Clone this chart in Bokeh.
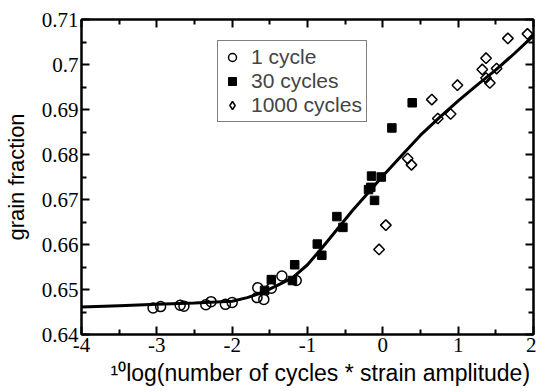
import math
from bokeh.plotting import figure
from bokeh.models import FixedTicker, LinearAxis, Legend, LegendItem, Range1d
from bokeh.embed import file_html
from bokeh.resources import INLINE

# ---- data ----
one_x = [-3.05, -2.95, -2.69, -2.64, -2.35, -2.28, -2.09, -2.00, -1.66, -1.67, -1.58, -1.48, -1.34, -1.15]
one_y = [0.6459, 0.6462, 0.6465, 0.6463, 0.6466, 0.6473, 0.6467, 0.6471, 0.6504, 0.6482, 0.6478, 0.6503, 0.6530, 0.6520]

thirty_x = [-1.57, -1.48, -1.20, -1.17, -0.87, -0.81, -0.61, -0.53, -0.19, -0.16, -0.15, -0.11, -0.02, 0.12, 0.39]
thirty_y = [0.6498, 0.6522, 0.6520, 0.6555, 0.6601, 0.6576, 0.6662, 0.6638, 0.6722, 0.6727, 0.6752, 0.6698, 0.6750, 0.6859, 0.6915]

thousand_x = [-0.05, 0.04, 0.33, 0.38, 0.65, 0.73, 0.90, 0.99, 1.32, 1.37, 1.51, 1.37, 1.42, 1.66, 1.92]
thousand_y = [0.6589, 0.6643, 0.6791, 0.6777, 0.6922, 0.6880, 0.6890, 0.6954, 0.6989, 0.7014, 0.6991, 0.6970, 0.6959, 0.7058, 0.7068]

fit_x = [-4.0, -3.5, -3.0, -2.5, -2.0, -1.8, -1.6, -1.4, -1.2, -1.0, -0.8, -0.6, -0.4, -0.2,
         0.0, 0.25, 0.5, 0.75, 1.0, 1.25, 1.5, 1.75, 2.0]
fit_y = [0.6461, 0.6464, 0.6467, 0.6470, 0.6474, 0.6482, 0.6493, 0.6509, 0.6526, 0.6555, 0.6594,
         0.6635, 0.6676, 0.6714, 0.6752, 0.6798, 0.6843, 0.6882, 0.6919, 0.6954, 0.6988, 0.7025, 0.7064]

series_labels = ["1 cycle", "30 cycles", "1000 cycles"]

x_ticks = [-4, -3, -2, -1, 0, 1, 2]
x_tick_labels = ["-4", "-3", "-2", "-1", "0", "1", "2"]
x_minor = [-3.5, -2.5, -1.5, -0.5, 0.5, 1.5]
y_ticks = [0.64, 0.65, 0.66, 0.67, 0.68, 0.69, 0.70, 0.71]
y_tick_labels = ["0.64", "0.65", "0.66", "0.67", "0.68", "0.69", "0.7", "0.71"]
y_minor = [0.645, 0.655, 0.665, 0.675, 0.685, 0.695, 0.705]

y_label = "grain fraction"
x_label = "\u00a0\u00a0\u00a0\u00a0\u00b9\u2070log(number of cycles * strain amplitude)"

# ---- figure ----
p = figure(width=536, height=391, output_backend="svg", toolbar_location=None,
           x_range=Range1d(-4, 2), y_range=Range1d(0.64, 0.71),
           min_border_left=81, min_border_right=3, min_border_top=19, min_border_bottom=57,
           x_axis_location=None, y_axis_location=None)
p.grid.visible = False
p.outline_line_color = "black"
p.outline_line_width = 2
p.background_fill_color = "white"
p.border_fill_color = "white"

def style_axis(ax, ticks, minor, labels):
    ax.ticker = FixedTicker(ticks=ticks, minor_ticks=minor)
    ax.axis_line_width = 2
    ax.axis_line_color = "black"
    ax.major_tick_in = 8
    ax.major_tick_out = 0
    ax.minor_tick_in = 5
    ax.minor_tick_out = 0
    ax.major_tick_line_width = 2
    ax.minor_tick_line_width = 2
    ax.major_label_text_font = "Liberation Serif"
    ax.major_label_text_color = "black"
    if labels is None:
        ax.major_label_text_alpha = 0
        ax.major_label_text_font_size = "1px"
        ax.major_label_standoff = 0
    else:
        ax.major_label_text_font_size = "21px"
        ax.major_label_standoff = 3
        ax.major_label_overrides = dict(zip(ticks, labels))
    ax.axis_label_text_font = "Liberation Sans"
    ax.axis_label_text_font_style = "normal"
    ax.axis_label_text_color = "black"

xb = LinearAxis(axis_label=x_label)
style_axis(xb, x_ticks, x_minor, x_tick_labels)
xb.axis_label_text_font_size = "23px"
xb.axis_label_standoff = 5
p.add_layout(xb, "below")

yl = LinearAxis(axis_label=y_label)
style_axis(yl, y_ticks, y_minor, y_tick_labels)
yl.axis_label_text_font_size = "22px"
yl.axis_label_standoff = 10
p.add_layout(yl, "left")

xt = LinearAxis()
style_axis(xt, x_ticks, x_minor, None)
p.add_layout(xt, "above")
yr = LinearAxis()
style_axis(yr, y_ticks, y_minor, None)
p.add_layout(yr, "right")

# ---- glyphs ----
p.line(fit_x, fit_y, line_color="black", line_width=3)
r1 = p.scatter(one_x, one_y, marker="circle", size=10, fill_color=None,
               line_color="black", line_width=1.5)
r2 = p.scatter(thirty_x, thirty_y, marker="square", size=8.5, fill_color="black",
               line_color="black", line_width=1)
r3 = p.scatter(thousand_x, thousand_y, marker="square", size=7.5, angle=math.pi / 4,
               fill_color=None, line_color="black", line_width=1.5)
# legend swatch for the open diamonds (zero-size on the plot; legend sizes its own swatch)
r3_key = p.scatter(thousand_x, thousand_y, marker="diamond", size=0, fill_color=None,
                   line_color="black", line_width=1.5)

legend = Legend(items=[LegendItem(label=series_labels[0], renderers=[r1]),
                       LegendItem(label=series_labels[1], renderers=[r2]),
                       LegendItem(label=series_labels[2], renderers=[r3_key])],
                location=(136, 212), padding=4, spacing=0, margin=0,
                glyph_width=20, glyph_height=24, label_height=24, label_standoff=9,
                label_text_font="Liberation Sans", label_text_font_size="21px",
                border_line_color="black", border_line_width=1.2,
                background_fill_color="white", background_fill_alpha=1)
p.add_layout(legend)

open("out.html", "w").write(file_html(p, INLINE))
